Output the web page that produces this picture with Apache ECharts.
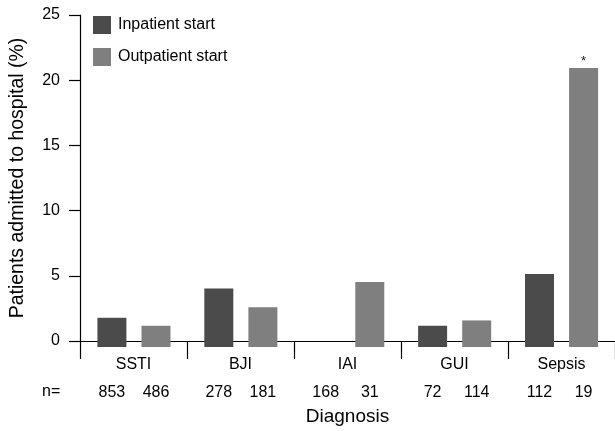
<!DOCTYPE html>
<html>
<head>
<meta charset="utf-8">
<script src="https://cdn.jsdelivr.net/npm/echarts@6/dist/echarts.min.js"></script>
<style>html,body{margin:0;padding:0;background:#fff}#c{width:615px;height:431px}</style>
</head>
<body>
<div id="c"></div>
<script>
var categories = ['SSTI', 'BJI', 'IAI', 'GUI', 'Sepsis'];
var inpatient = [2.2, 4.4, 0, 1.6, 5.5];
var outpatient = [1.6, 3.0, 4.9, 2.0, 21.0];
var nInpatient = [853, 278, 168, 72, 112];
var nOutpatient = [486, 181, 31, 114, 19];
var seriesNames = ['Inpatient start', 'Outpatient start'];
var yTicks = [0, 5, 10, 15, 20, 25];

var FONT = 'Liberation Sans, Arial, Helvetica, sans-serif';
var INK = '#000';
var chart = echarts.init(document.getElementById('c'), null, {renderer: 'canvas'});

var gridTop = 15, gridBottom = 84;
chart.setOption({
  animation: false,
  backgroundColor: '#ffffff',
  textStyle: {fontFamily: FONT},
  grid: [
    {left: 78, right: -1.5, top: gridTop, bottom: gridBottom, containLabel: false},
    {left: 80.5, right: -4, top: gridTop, bottom: gridBottom, containLabel: false}
  ],
  legend: {
    orient: 'vertical', left: 93, top: 16, padding: 0, itemWidth: 18, itemHeight: 18, itemGap: 14,
    icon: 'rect', data: seriesNames,
    textStyle: {fontSize: 16, color: INK, fontFamily: FONT, padding: [0, 0, 0, 2]}
  },
  xAxis: [{
    type: 'category', gridIndex: 0, data: categories,
    axisLine: {lineStyle: {color: INK, width: 1.2}},
    axisTick: {show: true, length: 18, interval: 0, alignWithLabel: false, lineStyle: {color: INK, width: 1.2}},
    axisLabel: {fontSize: 16, color: INK, margin: 16, fontFamily: FONT, interval: 0},
    name: 'Diagnosis', nameLocation: 'middle', nameGap: 66,
    nameTextStyle: {fontSize: 19, color: INK, fontFamily: FONT}
  }, {
    type: 'category', gridIndex: 1, data: categories, show: false
  }],
  yAxis: [{
    type: 'value', gridIndex: 0, min: yTicks[0], max: yTicks[yTicks.length - 1], interval: 5,
    axisLine: {show: true, lineStyle: {color: INK, width: 1.2}},
    axisTick: {show: true, length: 11, lineStyle: {color: INK, width: 1.2}},
    axisLabel: {fontSize: 16, color: INK, margin: 20, fontFamily: FONT},
    splitLine: {show: false},
    name: 'Patients admitted to hospital (%)', nameLocation: 'middle', nameGap: 52,
    nameTextStyle: {fontSize: 19.5, color: INK, fontFamily: FONT}
  }, {
    type: 'value', gridIndex: 1, min: 0, max: 25, show: false, splitLine: {show: false}
  }],
  graphic: [{
    type: 'text', left: 42, top: 384,
    style: {text: 'n=', fontSize: 16, fill: INK, fontFamily: FONT}
  }],
  series: [{
    name: seriesNames[0], type: 'bar', xAxisIndex: 1, yAxisIndex: 1,
    data: inpatient, barWidth: 29, barGap: '52%',
    itemStyle: {color: '#4b4b4b'},
    label: {show: true, position: 'bottom', distance: 38, fontSize: 16, color: INK, fontFamily: FONT,
      formatter: function (p) { return String(nInpatient[p.dataIndex]); }}
  }, {
    name: seriesNames[1], type: 'bar', xAxisIndex: 1, yAxisIndex: 1,
    data: outpatient, barWidth: 29, barGap: '52%',
    itemStyle: {color: '#7f7f7f'},
    label: {show: true, position: 'bottom', distance: 38, fontSize: 16, color: INK, fontFamily: FONT,
      formatter: function (p) { return String(nOutpatient[p.dataIndex]); }},
    markPoint: {
      symbol: 'circle', symbolSize: 0,
      label: {show: true, formatter: '*', fontSize: 13, color: '#222', offset: [0, -7], fontFamily: FONT},
      data: [{coord: ['Sepsis', 21.0], value: 21.0}]
    }
  }]
});
</script>
</body>
</html>
